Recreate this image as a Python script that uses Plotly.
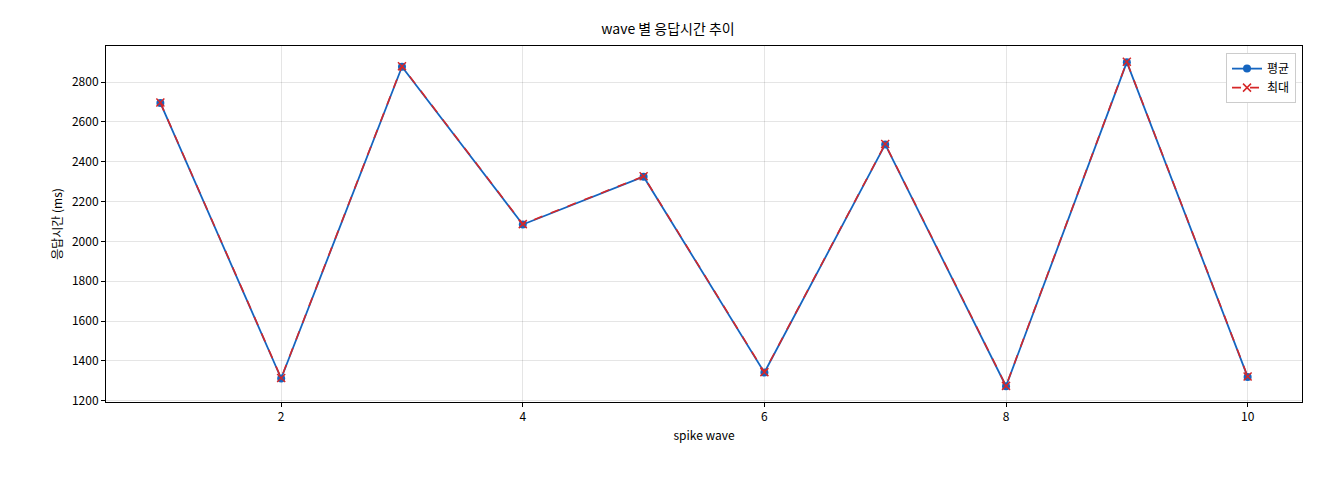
import plotly.graph_objects as go

waves = [1, 2, 3, 4, 5, 6, 7, 8, 9, 10]
avg_ms = [2695, 1312, 2877, 2085, 2325, 1342, 2487, 1273, 2900, 1320]
max_ms = [2697, 1314, 2879, 2087, 2327, 1344, 2489, 1275, 2902, 1322]

font = "Noto Sans CJK KR"

fig = go.Figure()
fig.add_trace(go.Scatter(
    x=waves, y=avg_ms, name="평균", mode="lines+markers",
    line=dict(color="#1565c0", width=1.8),
    marker=dict(symbol="circle", size=8, color="#1565c0"),
))
fig.add_trace(go.Scatter(
    x=waves, y=max_ms, name="최대", mode="lines+markers",
    line=dict(color="#d62728", width=1.6, dash="dash"),
    marker=dict(symbol="x-thin-open", size=8, color="#d62728",
                line=dict(width=1.5, color="#d62728")),
))

axis = dict(showline=True, linecolor="black", linewidth=1, mirror=True,
            ticks="outside", ticklen=4, tickcolor="black",
            showgrid=True, gridcolor="rgba(0,0,0,0.1)", zeroline=False,
            tickfont=dict(size=12, color="black"))

# page body adds ~8px offset, so margins are compensated
fig.update_layout(
    width=1320, height=480,
    margin=dict(l=98, r=26, t=38, b=86),
    plot_bgcolor="white", paper_bgcolor="white",
    font=dict(family=font, color="black"),
    title=dict(text="wave 별 응답시간 추이", x=0.5, xanchor="center",
               y=1 - 21 / 480, yanchor="middle", font=dict(size=14)),
    xaxis=dict(axis, range=[0.55, 10.45], tickvals=[2, 4, 6, 8, 10],
               title=dict(text="spike wave", font=dict(size=12), standoff=8)),
    yaxis=dict(axis, range=[1194, 2981], dtick=200,
               title=dict(text="응답시간 (ms)", font=dict(size=12), standoff=6)),
    legend=dict(x=0.995, y=0.98, xanchor="right", yanchor="top",
                bgcolor="white", bordercolor="#cccccc", borderwidth=1,
                font=dict(size=12)),
)

fig.write_html("out.html")
